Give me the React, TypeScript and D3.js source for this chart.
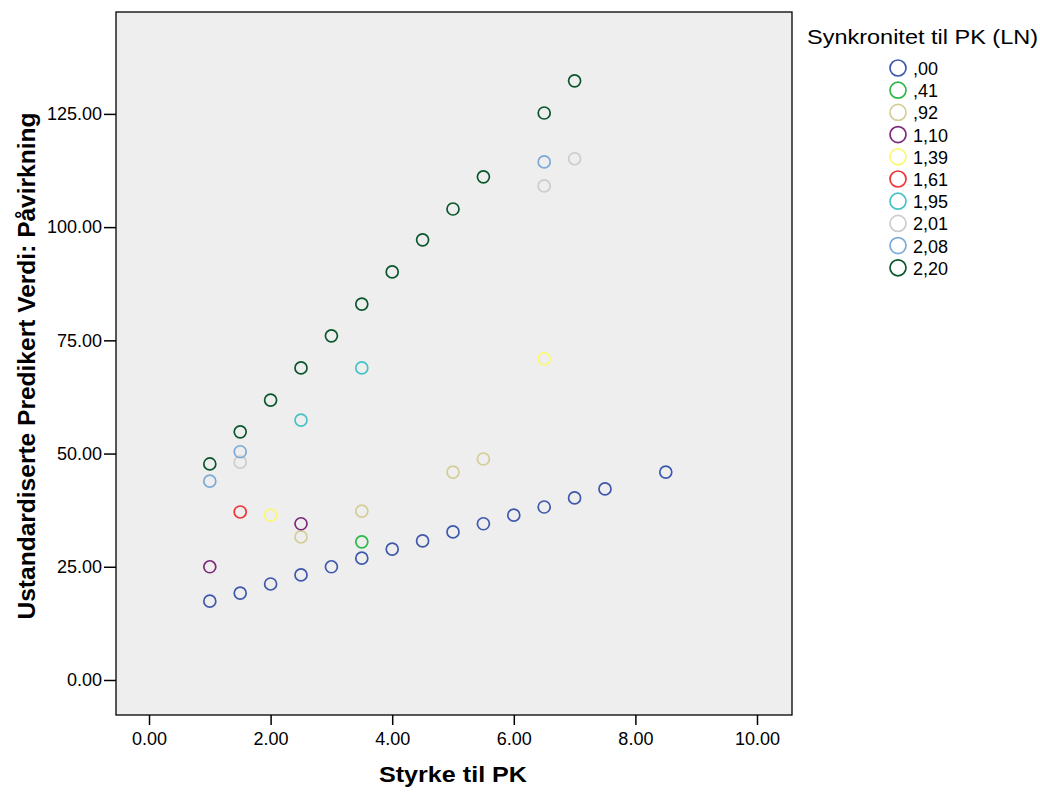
import { useEffect, useRef } from 'react';
import * as d3 from 'd3';

const groups = [',00', ',41', ',92', '1,10', '1,39', '1,61', '1,95', '2,01', '2,08', '2,20'];
const groupColors = ['#3e58ac', '#2eb848', '#d3ce97', '#7c287d', '#fbf873', '#ef3338', '#48c2c5', '#cccccc', '#7aaad5', '#0a562c'];

// [styrke, predikert verdi] per gruppe
const g00 = [[1, 17.4], [1.5, 19.2], [2, 21.2], [2.5, 23.2], [3, 25.0], [3.5, 26.9], [4, 28.9], [4.5, 30.7], [5, 32.7], [5.5, 34.5], [6, 36.4], [6.5, 38.2], [7, 40.2], [7.5, 42.2], [8.5, 45.9]];
const g41 = [[3.5, 30.5]];
const g92 = [[2.5, 31.6], [3.5, 37.3], [5, 45.9], [5.5, 48.8]];
const g110 = [[1, 25.0], [2.5, 34.5]];
const g139 = [[2, 36.4], [6.5, 70.9]];
const g161 = [[1.5, 37.1]];
const g195 = [[2.5, 57.4], [3.5, 68.9]];
const g201 = [[1.5, 48.1], [6.5, 109.1], [7, 115.1]];
const g208 = [[1, 43.9], [1.5, 50.4], [6.5, 114.4]];
const g220 = [[1, 47.7], [1.5, 54.8], [2, 61.8], [2.5, 68.9], [3, 76.0], [3.5, 83.0], [4, 90.1], [4.5, 97.2], [5, 104.0], [5.5, 111.1], [6.5, 125.2], [7, 132.3]];
const series = [g00, g41, g92, g110, g139, g161, g195, g201, g208, g220];

const xTicks = [0, 2, 4, 6, 8, 10];
const yTicks = [0, 25, 50, 75, 100, 125];

const App = () => {
  const svgRef = useRef<SVGSVGElement>(null);

  useEffect(() => {
    if (!svgRef.current) return;
    const width = 1040;
    const height = 792;
    const plot = { left: 116, right: 792, top: 12, bottom: 715 };
    const font = 'Liberation Sans, Arial, sans-serif';

    const svg = d3.select(svgRef.current);
    svg.selectAll('*').remove();
    svg.attr('width', width).attr('height', height);

    svg.append('rect').attr('width', width).attr('height', height).attr('fill', '#ffffff');

    const x = d3.scaleLinear().domain([-0.543, 10.576]).range([plot.left, plot.right]);
    const y = d3.scaleLinear().domain([-7.73, 147.5]).range([plot.bottom, plot.top]);

    svg.append('rect')
      .attr('x', plot.left)
      .attr('y', plot.top)
      .attr('width', plot.right - plot.left)
      .attr('height', plot.bottom - plot.top)
      .attr('fill', '#eeeeee')
      .attr('stroke', '#000')
      .attr('stroke-width', 1.3);

    const xAxis = svg.append('g')
      .attr('transform', `translate(0,${plot.bottom})`)
      .call(d3.axisBottom(x).tickValues(xTicks).tickSize(10).tickSizeOuter(0).tickFormat(d3.format('.2f')));
    xAxis.select('.domain').remove();
    xAxis.selectAll('line').attr('stroke', '#000').attr('stroke-width', 1.5);
    xAxis.selectAll('text')
      .attr('dy', 0)
      .attr('y', 30)
      .style('font-family', font)
      .style('font-size', '18px')
      .style('fill', '#000');

    const yAxis = svg.append('g')
      .attr('transform', `translate(${plot.left},0)`)
      .call(d3.axisLeft(y).tickValues(yTicks).tickSize(12).tickSizeOuter(0).tickFormat(d3.format('.2f')));
    yAxis.select('.domain').remove();
    yAxis.selectAll('line').attr('stroke', '#000').attr('stroke-width', 1.5);
    yAxis.selectAll('text')
      .attr('x', -14)
      .style('font-family', font)
      .style('font-size', '18px')
      .style('fill', '#000');

    series.forEach((pts, i) => {
      svg.append('g')
        .selectAll('circle')
        .data(pts)
        .enter()
        .append('circle')
        .attr('cx', d => x(d[0]))
        .attr('cy', d => y(d[1]))
        .attr('r', 6)
        .attr('fill', 'none')
        .attr('stroke', groupColors[i])
        .attr('stroke-width', 1.7);
    });

    svg.append('text')
      .attr('x', 453)
      .attr('y', 782)
      .attr('text-anchor', 'middle')
      .attr('textLength', 148)
      .attr('lengthAdjust', 'spacingAndGlyphs')
      .style('font-family', font)
      .style('font-weight', 'bold')
      .style('font-size', '22px')
      .text('Styrke til PK');

    svg.append('text')
      .attr('transform', `translate(35,366) rotate(-90)`)
      .attr('text-anchor', 'middle')
      .attr('textLength', 507)
      .attr('lengthAdjust', 'spacingAndGlyphs')
      .style('font-family', font)
      .style('font-weight', 'bold')
      .style('font-size', '23px')
      .text('Ustandardiserte Predikert Verdi: Påvirkning');

    const legend = svg.append('g');
    legend.append('text')
      .attr('x', 807)
      .attr('y', 44)
      .attr('textLength', 231)
      .attr('lengthAdjust', 'spacingAndGlyphs')
      .style('font-family', font)
      .style('font-size', '21px')
      .text('Synkronitet til PK (LN)');

    const item = legend.selectAll('g.item')
      .data(groups)
      .enter()
      .append('g')
      .attr('class', 'item')
      .attr('transform', (_, i) => `translate(898,${68 + i * 22.2})`);
    item.append('circle')
      .attr('r', 8)
      .attr('fill', 'none')
      .attr('stroke', (_, i) => groupColors[i])
      .attr('stroke-width', 1.7);
    item.append('text')
      .attr('x', 15)
      .attr('y', 7)
      .style('font-family', font)
      .style('font-size', '18px')
      .text(d => d);
  }, []);

  return (
    <div style={{ position: 'absolute', left: 0, top: 0 }}>
      <svg ref={svgRef} style={{ display: 'block' }}></svg>
    </div>
  );
};

export default App;
